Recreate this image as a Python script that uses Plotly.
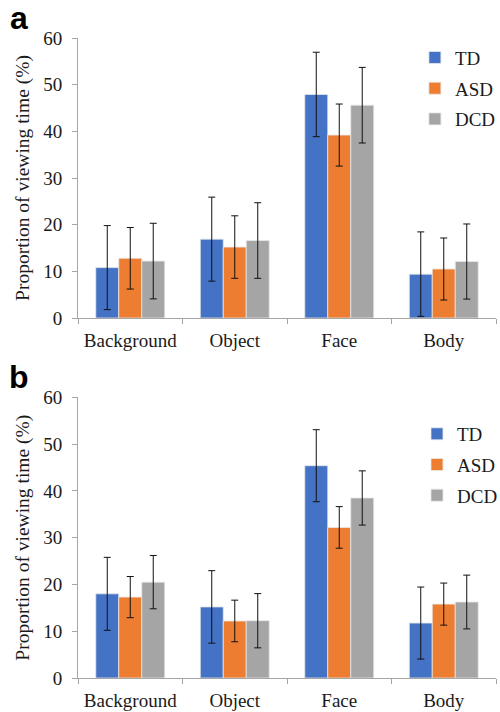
import plotly.graph_objects as go

categories = ["Background", "Object", "Face", "Body"]
groups = ["TD", "ASD", "DCD"]
colors = {"TD": "#4472C4", "ASD": "#ED7D31", "DCD": "#A5A5A5"}

# Panel a
a_means = {
    "TD": [10.8, 16.9, 47.9, 9.4],
    "ASD": [12.8, 15.2, 39.2, 10.5],
    "DCD": [12.2, 16.6, 45.6, 12.1],
}
a_err = {
    "TD": [9.0, 9.0, 9.05, 9.05],
    "ASD": [6.6, 6.7, 6.65, 6.65],
    "DCD": [8.1, 8.1, 8.1, 8.05],
}
# Panel b
b_means = {
    "TD": [18.0, 15.2, 45.4, 11.75],
    "ASD": [17.3, 12.2, 32.2, 15.8],
    "DCD": [20.5, 12.25, 38.5, 16.25],
}
b_err = {
    "TD": [7.8, 7.75, 7.7, 7.7],
    "ASD": [4.4, 4.45, 4.45, 4.5],
    "DCD": [5.7, 5.8, 5.8, 5.75],
}

yticks = [0, 10, 20, 30, 40, 50, 60]
ytitle = "Proportion of viewing time (%)"

serif = "Liberation Serif, Times New Roman, Times, serif"
txt = "#1a1a1a"
axis_gray = "#a6a6a6"

fig = go.Figure()

for panel, (means, errs, xa, ya, leg) in enumerate([
    (a_means, a_err, "x", "y", "legend"),
    (b_means, b_err, "x2", "y2", "legend2"),
]):
    for g in groups:
        fig.add_trace(go.Bar(
            x=categories, y=means[g], name=g,
            marker=dict(color=colors[g], line=dict(color="#e8e8e8", width=0.8)),
            error_y=dict(type="data", array=errs[g], visible=True,
                         color="#111111", thickness=1, width=3.5),
            xaxis=xa, yaxis=ya, legend=leg, legendgroup=f"{leg}{g}",
        ))

xcommon = dict(
    type="category", showline=True, linecolor=axis_gray, linewidth=1,
    ticks="outside", tickson="boundaries", ticklen=5, tickcolor=axis_gray,
    tickfont=dict(family=serif, size=19, color=txt), showgrid=False,
    domain=[0, 1], zeroline=False, tickangle=0, automargin=False,
    ticklabelstandoff=5,
)
ycommon = dict(
    range=[0, 60], tickvals=yticks, showline=True, linecolor=axis_gray,
    linewidth=1, ticks="outside", ticklen=5, tickcolor=axis_gray,
    tickfont=dict(family=serif, size=19, color=txt), showgrid=False,
    zeroline=False, ticklabelstandoff=6, automargin=False,
    title=dict(text=ytitle, font=dict(family=serif, size=19.5, color=txt), standoff=8),
)

legcommon = dict(
    font=dict(family=serif, size=19, color=txt), bgcolor="rgba(0,0,0,0)",
    traceorder="grouped", tracegroupgap=3, xanchor="left", yanchor="top",
    itemwidth=30,
)

fig.update_layout(
    width=500, height=712,
    margin=dict(l=78, r=4, t=38, b=34, autoexpand=False),
    font=dict(family=serif, color=txt),
    paper_bgcolor="white", plot_bgcolor="white",
    barmode="group", bargap=0.34, bargroupgap=0,
    xaxis=dict(**xcommon, anchor="y"),
    yaxis=dict(**ycommon, domain=[0.5625, 1.0], anchor="x"),
    xaxis2=dict(**xcommon, anchor="y2"),
    yaxis2=dict(**ycommon, domain=[0.0, 0.4384], anchor="x2"),
    legend=dict(**legcommon, x=0.806, y=0.999),
    legend2=dict(**legcommon, x=0.811, y=0.411),
    annotations=[
        dict(text="<b>a</b>", xref="paper", yref="paper", x=-0.14, y=1.0,
             yshift=20, xanchor="center", yanchor="middle", showarrow=False,
             font=dict(family="Liberation Sans, Arial, sans-serif", size=32, color="black")),
        dict(text="<b>b</b>", xref="paper", yref="paper", x=-0.14, y=0.4384,
             yshift=20, xanchor="center", yanchor="middle", showarrow=False,
             font=dict(family="Liberation Sans, Arial, sans-serif", size=32, color="black")),
    ],
)

fig.write_html("out.html", config={"displayModeBar": False},
               post_script="document.body.style.margin='0';")
